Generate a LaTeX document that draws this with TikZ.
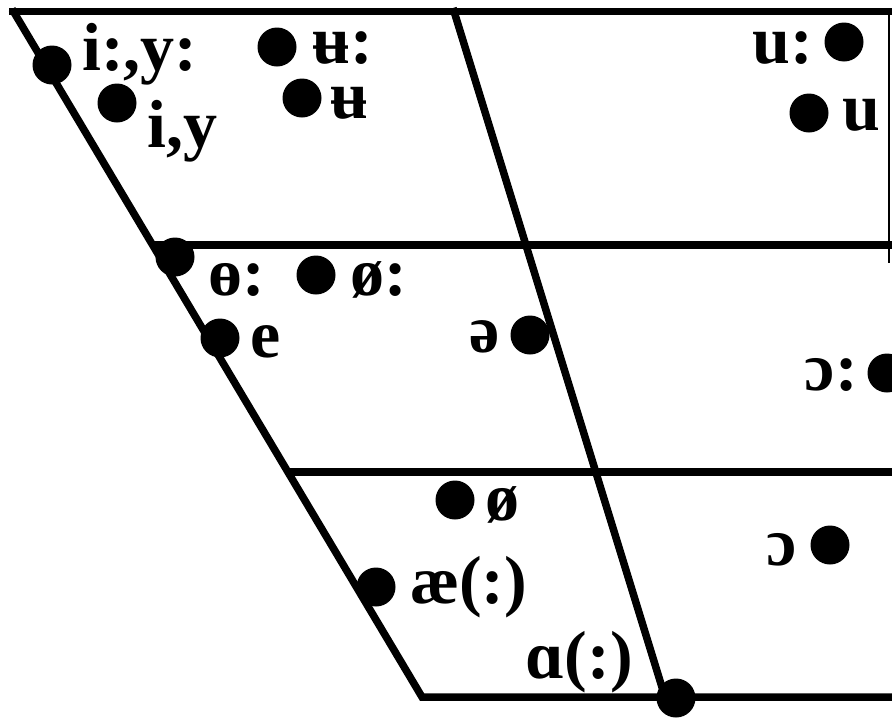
\documentclass[tikz,border=0pt]{standalone}
\usepackage{fontspec}
\setmainfont{Liberation Serif}
\begin{document}
\begin{tikzpicture}[x=1pt,y=-1pt,
  edge/.style={line width=7.5pt},
  thinedge/.style={line width=2.5pt},
  vdot/.style={circle,fill=black,inner sep=0pt,minimum size=39pt},
  lblw/.style={anchor=base west,inner sep=0pt,font=\fontsize{68}{68}\selectfont\bfseries},
  lble/.style={anchor=base east,inner sep=0pt,font=\fontsize{68}{68}\selectfont\bfseries}]
\useasboundingbox (0,0) rectangle (892,718);
\clip (0,0) rectangle (892,718);
\fill[white] (0,0) rectangle (892,718);
% corners of the chart
\coordinate (topL) at (9,11.5);
\coordinate (topR) at (892,11.5);
\coordinate (edgeT) at (12,9);
\coordinate (edgeB) at (422,697);
\coordinate (botR) at (892,697);
\coordinate (midT) at (453,8);
\coordinate (midB) at (665,697);
\coordinate (h1L) at (151.5,245);
\coordinate (h1R) at (892,245);
\coordinate (h2L) at (287.3,472);
\coordinate (h2R) at (892,472);
\coordinate (rT) at (889,12);
\coordinate (rB) at (889,263);
% lines
\draw[edge] (topL) -- (topR);
\draw[edge,line join=miter] (edgeT) -- (edgeB) -- (botR);
\draw[edge] (midT) -- (midB);
\draw[edge] (h1L) -- (h1R);
\draw[edge] (h2L) -- (h2R);
\draw[thinedge] (rT) -- (rB);
% dots
\node[vdot] (d1) at (52,65) {};
\node[vdot] (d2) at (117,103) {};
\node[vdot] (d3) at (277,47) {};
\node[vdot] (d4) at (302,98) {};
\node[vdot] (d5) at (844,42) {};
\node[vdot] (d6) at (809,113) {};
\node[vdot] (d7) at (175,257) {};
\node[vdot] (d8) at (316,275) {};
\node[vdot] (d9) at (220,338) {};
\node[vdot] (d10) at (530,335) {};
\node[vdot] (d11) at (887,373) {};
\node[vdot] (d12) at (455,500) {};
\node[vdot] (d13) at (830,545) {};
\node[vdot] (d14) at (376,587) {};
\node[vdot] (d15) at (676,698) {};
% labels
\node[lblw] (t1) at (82,70) {i:,y:};
\node[lblw] (t2) at (147,147) {i,y};
\node[lblw] (t3) at (312,63) {ʉ:};
\node[lblw] (t4) at (330,118) {ʉ};
\node[lble] (t5) at (813,63) {u:};
\node[lblw] (t6) at (842,130) {u};
\node[lblw] (t7) at (208,295) {ɵ:};
\node[lblw] (t8) at (350,295) {ø:};
\node[lblw] (t9) at (250,357) {e};
\node[lble] (t10) at (500,352) {ə};
\node[lble] (t11) at (858,390) {ɔ:};
\node[lblw] (t12) at (485,520) {ø};
\node[lble] (t13) at (797,565) {ɔ};
\node[lblw] (t14) at (410,603) {æ(:)};
\node[lble] (t15) at (633,678) {ɑ(:)};
\end{tikzpicture}
\end{document}
